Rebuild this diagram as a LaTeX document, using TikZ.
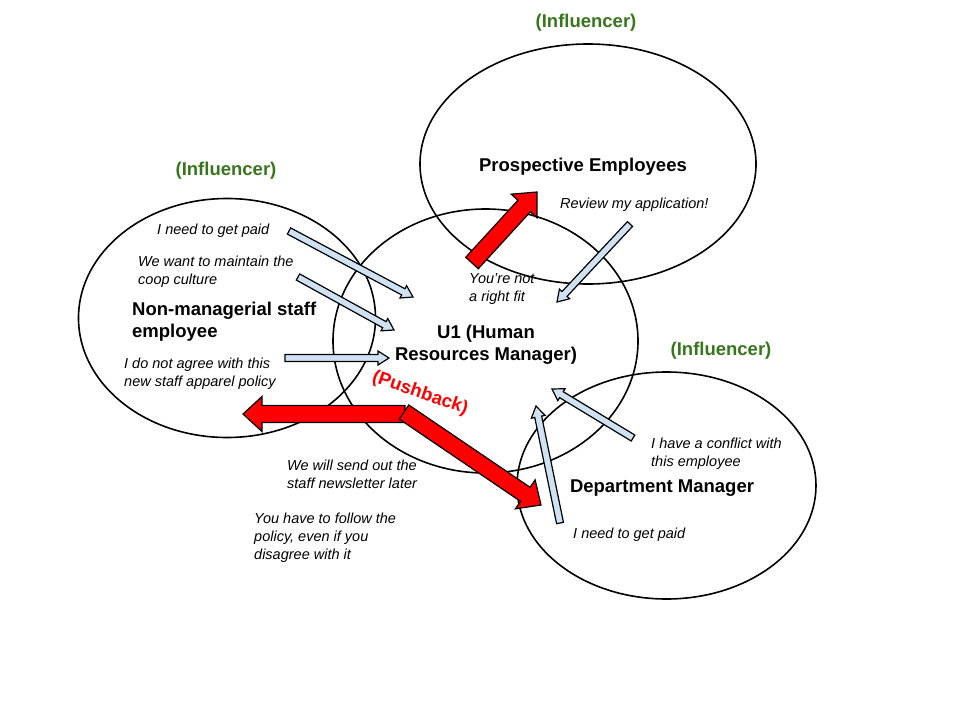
\documentclass[tikz,border=0pt]{standalone}
\usepackage{fontspec}
\setmainfont{Liberation Sans}
\usetikzlibrary{calc,shapes.geometric}
\definecolor{verdeinf}{HTML}{38761D}
\definecolor{azulclaro}{HTML}{CFE2F3}

% seta larga: estilo, origem, ponta, meia largura da haste, meia largura da ponta, comprimento da ponta
\newcommand{\setalarga}[6]{%
  \coordinate (hb) at ($(#3)!#6!(#2)$);
  \draw[#1] ($(#2)!#4!90:(#3)$) -- ($(hb)!#4!90:(#3)$) -- ($(hb)!#5!90:(#3)$) -- (#3)
    -- ($(hb)!#5!-90:(#3)$) -- ($(hb)!#4!-90:(#3)$) -- ($(#2)!#4!-90:(#3)$) -- cycle;
}
\newcommand{\setaazul}[2]{\setalarga{azul}{#1}{#2}{3.5pt}{7pt}{11pt}}
\newcommand{\setavermelha}[2]{\setalarga{vermelha}{#1}{#2}{8.5pt}{17.5pt}{19pt}}

\begin{document}
\begin{tikzpicture}[x=1pt, y=-1pt,
    elipse/.style={draw, ellipse, line width=1.6pt, inner sep=0pt},
    rotulo/.style={font=\fontsize{18.5}{22}\selectfont\bfseries, align=center, inner sep=0pt, yshift=-2.5pt},
    fala/.style={font=\fontsize{14.5}{18}\selectfont\itshape, align=left, anchor=west, inner sep=0pt, yshift=-2.5pt},
    influ/.style={font=\fontsize{18.5}{22}\selectfont\bfseries, text=verdeinf, inner sep=0pt, yshift=-2.5pt},
    azul/.style={draw=black, fill=azulclaro, line width=1.2pt},
    vermelha/.style={draw=black, fill=red, line width=1.2pt}]
  \useasboundingbox (0,0) rectangle (960,720);

  % Elipses
  \node[elipse, minimum width=336pt, minimum height=240pt] (pe) at (588,164) {};
  \node[elipse, minimum width=297pt, minimum height=239pt] (ns) at (227,318) {};
  \node[elipse, minimum width=305pt, minimum height=264pt] (u1) at (485.5,341) {};
  \node[elipse, minimum width=299pt, minimum height=227pt] (dm) at (666.5,485.5) {};

  % Pontas das setas
  \coordinate (a1s) at (289,231); \coordinate (a1t) at (413,297);
  \coordinate (a2s) at (298,277); \coordinate (a2t) at (394,330);
  \coordinate (a3s) at (285,358); \coordinate (a3t) at (389,358);
  \coordinate (a4s) at (630,224); \coordinate (a4t) at (557,302);
  \coordinate (a5s) at (633,438); \coordinate (a5t) at (552,389);
  \coordinate (a6s) at (560,523); \coordinate (a6t) at (536,406);
  \coordinate (r1s) at (472,263); \coordinate (r1t) at (537,192);
  \coordinate (r2s) at (405,414); \coordinate (r2t) at (243,414);
  \coordinate (r3s) at (404,412); \coordinate (r3t) at (541,505);

  % Setas azuis
  \setaazul{a1s}{a1t}
  \setaazul{a2s}{a2t}
  \setaazul{a3s}{a3t}
  \setaazul{a4s}{a4t}
  \setaazul{a5s}{a5t}
  \setaazul{a6s}{a6t}

  % Setas vermelhas
  \setavermelha{r1s}{r1t}
  \setavermelha{r2s}{r2t}
  \setavermelha{r3s}{r3t}

  % Rotulos
  \node[influ] (inf1) at (586,20) {(Influencer)};
  \node[influ] (inf2) at (226,168) {(Influencer)};
  \node[influ] (inf3) at (721,348) {(Influencer)};
  \node[rotulo] (tpe) at (583,164) {Prospective Employees};
  \node[rotulo, align=left, anchor=west] (tns) at (132,319) {Non-managerial staff\\employee};
  \node[rotulo] (tu1) at (486,342.5) {U1 (Human\\Resources Manager)};
  \node[rotulo] (tdm) at (662,486) {Department Manager};
  \node[rotulo, text=red, rotate=-19] (pb) at (420,391) {(Pushback)};

  % Falas
  \node[fala] (f1) at (157,228) {I need to get paid};
  \node[fala] (f2) at (138,269) {We want to maintain the\\coop culture};
  \node[fala] (f3) at (124,371) {I do not agree with this\\new staff apparel policy};
  \node[fala] (f4) at (560,202) {Review my application!};
  \node[fala] (f5) at (469,287) {You’re not\\a right fit};
  \node[fala] (f6) at (651,451.5) {I have a conflict with\\this employee};
  \node[fala] (f7) at (573,532) {I need to get paid};
  \node[fala] (f8) at (287,472) {We will send out the\\staff newsletter later};
  \node[fala] (f9) at (254,535) {You have to follow the\\policy, even if you\\disagree with it};
\end{tikzpicture}
\end{document}
